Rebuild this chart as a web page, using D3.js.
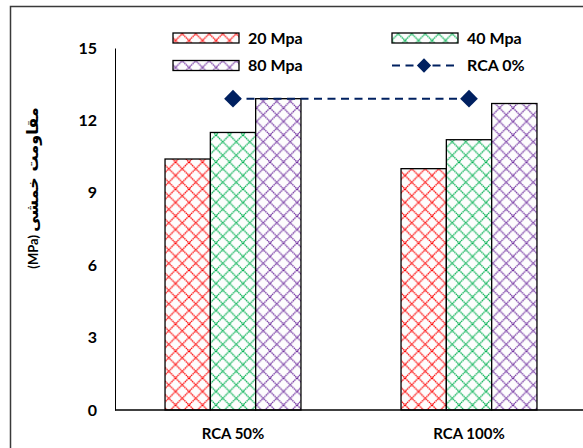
<!DOCTYPE html>
<html><head><meta charset="utf-8">
<script src="https://cdn.jsdelivr.net/npm/d3@7"></script>
<style>html,body{margin:0;padding:0;background:#fff;overflow:hidden}</style>
</head><body>
<svg id="c" width="583" height="448"></svg>
<script>
const categories = ["RCA 50%", "RCA 100%"];
const seriesNames = ["20 Mpa", "40 Mpa", "80 Mpa"];
const values20 = [10.4, 10.0];
const values40 = [11.5, 11.2];
const values80 = [12.9, 12.7];
const rca0 = [12.9, 12.9];
const lineName = "RCA 0%";
const yTicks = [0, 3, 6, 9, 12, 15];
const yTitleAr = "مقاومت خمشی";
const yTitleUnit = "(MPa)";

const colors = ["#FF0000", "#00B050", "#7030A0"];
const lineColor = "#002060";
const font = "Lato, 'Open Sans', sans-serif";

const svg = d3.select("#c");
svg.append("rect").attr("width",583).attr("height",448).attr("fill","#fff");

// patterns
const defs = svg.append("defs");
const P = 13.5;
colors.forEach((c,i)=>{
  const p = defs.append("pattern").attr("id","pat"+i).attr("patternUnits","userSpaceOnUse")
    .attr("width",P).attr("height",P).attr("x", 0).attr("y", 0);
  p.append("rect").attr("width",P).attr("height",P).attr("fill","#fdfdfd");
  p.append("path").attr("d",`M0,0L${P},${P}M${P},0L0,${P}M-1,${P-1}L1,${P+1}M${P-1},-1L${P+1},1`)
    .attr("stroke",c).attr("stroke-width",1.3).attr("stroke-dasharray","1.5,0.6").attr("fill","none");
});

// outer border
svg.append("rect").attr("x",10.5).attr("y",6.5).attr("width",700).attr("height",600)
  .attr("fill","none").attr("stroke","#3a3a3a").attr("stroke-width",1.5);

const y = d3.scaleLinear().domain([0,15]).range([410,48]);
const x = d3.scaleBand().domain(categories).range([115,587]).paddingInner(0.424).paddingOuter(0.212);
const xs = d3.scaleBand().domain(seriesNames).range([0, x.bandwidth()]);

const seriesVals = [values20, values40, values80];

// bars
seriesNames.forEach((s,i)=>{
  svg.append("g").selectAll("rect").data(categories).join("rect")
    .attr("x", d=>x(d)+xs(s))
    .attr("y", (d,j)=>y(seriesVals[i][j]))
    .attr("width", xs.bandwidth())
    .attr("height", (d,j)=>y(0)-y(seriesVals[i][j]))
    .attr("fill","url(#pat"+i+")")
    .attr("stroke","#000").attr("stroke-width",1.3);
});

// axes
const yAxis = d3.axisLeft(y).tickValues(yTicks).tickSize(0).tickPadding(18);
const gy = svg.append("g").attr("transform","translate(115,0)").call(yAxis);
gy.select(".domain").attr("stroke","#000").attr("stroke-width",1);
gy.selectAll("text").attr("font-family",font).attr("font-weight","bold").attr("font-size",16).attr("fill","#000");

svg.append("line").attr("x1",115).attr("x2",583).attr("y1",y(0)).attr("y2",y(0)).attr("stroke","#000").attr("stroke-width",1.3);

const xAxis = d3.axisBottom(x).tickSize(0).tickPadding(18);
const gx = svg.append("g").attr("transform",`translate(0,${y(0)})`).call(xAxis);
gx.select(".domain").remove();
gx.selectAll("text").attr("font-family",font).attr("font-weight","bold").attr("font-size",15).attr("fill","#000");

// line series
const cx = d=>x(d)+x.bandwidth()/2;
svg.append("path").datum(categories)
  .attr("d", d3.line().x(cx).y((d,j)=>y(rca0[j]))(categories))
  .attr("fill","none").attr("stroke",lineColor).attr("stroke-width",2).attr("stroke-dasharray","8,5.5");
svg.append("g").selectAll("path").data(categories).join("path")
  .attr("transform",(d,j)=>`translate(${cx(d)},${y(rca0[j])})`)
  .attr("d", d3.symbol(d3.symbolDiamond2, 200)())
  .attr("fill",lineColor);

// legend
const leg = [
  {name: seriesNames[0], x:173, y:38, type:"bar", i:0},
  {name: seriesNames[1], x:392, y:38, type:"bar", i:1},
  {name: seriesNames[2], x:173, y:65.5, type:"bar", i:2},
  {name: lineName, x:392, y:65.5, type:"line"}
];
leg.forEach(l=>{
  if(l.type==="bar"){
    svg.append("rect").attr("x",l.x).attr("y",l.y-5).attr("width",66).attr("height",10)
      .attr("fill","url(#pat"+l.i+")").attr("stroke","#000").attr("stroke-width",1.3);
  } else {
    svg.append("line").attr("x1",l.x).attr("x2",l.x+62).attr("y1",l.y).attr("y2",l.y)
      .attr("stroke",lineColor).attr("stroke-width",2).attr("stroke-dasharray","8,5.5");
    svg.append("path").attr("transform",`translate(${l.x+32},${l.y})`)
      .attr("d", d3.symbol(d3.symbolDiamond2, 130)()).attr("fill",lineColor);
  }
  svg.append("text").attr("x",l.x+75).attr("y",l.y).attr("dy","0.35em")
    .attr("font-family",font).attr("font-weight","bold").attr("font-size",16).attr("fill","#000").text(l.name);
});

// y title
const t = svg.append("text").attr("transform","translate(38,188) rotate(-90)")
  .attr("text-anchor","middle").attr("font-family","'DejaVu Sans', sans-serif").attr("font-weight","bold").attr("fill","#000");
t.append("tspan").attr("font-size",13).attr("font-family",font).text(yTitleUnit + " ");
t.append("tspan").attr("font-size",16).text(yTitleAr);
</script>
</body></html>
